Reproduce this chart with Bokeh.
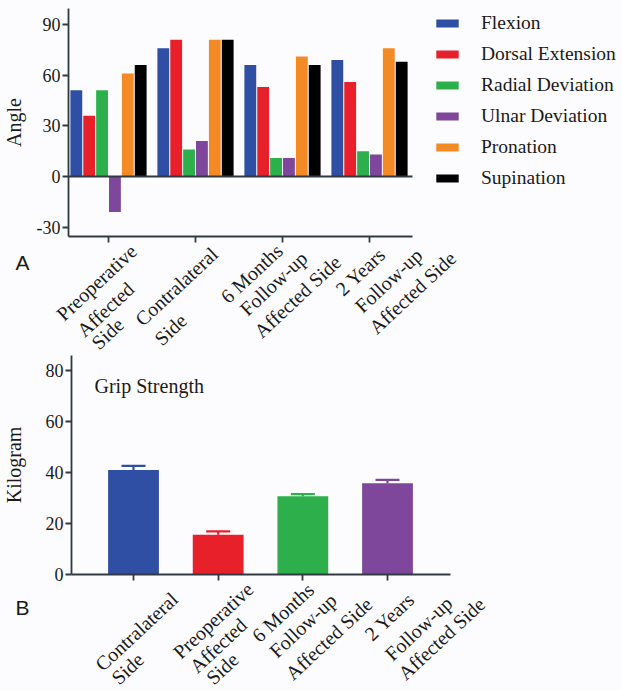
import math
from bokeh.plotting import figure
from bokeh.models import (Range1d, FixedTicker, Legend, LegendItem, Label, LinearAxis,
                          ColumnDataSource, Whisker, TeeHead, CustomLabelingPolicy)
from bokeh.layouts import column
from bokeh.transform import dodge
from bokeh.embed import file_html
from bokeh.resources import INLINE

# ---------------- data ----------------
groups_a = ["Preoperative\nAffected\nSide", "Contralateral\nSide",
            "6 Months\nFollow-up\nAffected Side", "2 Years\nFollow-up\nAffected Side"]
series_names = ["Flexion", "Dorsal Extension", "Radial Deviation",
                "Ulnar Deviation", "Pronation", "Supination"]
flexion = [51, 76, 66, 69]
dorsal_extension = [36, 81, 53, 56]
radial_deviation = [51, 16, 11, 15]
ulnar_deviation = [-21, 21, 11, 13]
pronation = [61, 81, 71, 76]
supination = [66, 81, 66, 68]
angle_ticks = [-30, 0, 30, 60, 90]
angle_bounds = (-35.5, 99.5)

groups_b = ["Contralateral\nSide", "Preoperative\nAffected\nSide",
            "6 Months\nFollow-up\nAffected Side", "2 Years\nFollow-up\nAffected Side"]
grip_mean = [41.0, 15.6, 30.7, 35.8]
grip_upper = [42.6, 16.9, 31.5, 37.1]
kg_ticks = [0, 20, 40, 60, 80]
kg_bounds = (0, 86)

series_colors = ["#2E4FA3", "#E8202A", "#2DB04B", "#7E479B", "#F28A26", "#000000"]
grip_colors = ["#2E4FA3", "#E8202A", "#2DB04B", "#7E479B"]

# ---------------- styling / layout constants ----------------
SERIF = "Liberation Serif"
SANS = "Liberation Sans"
AXIS_COLOR = "#2F3B40"
TEXT_COLOR = "#1A1A1A"
BG = "#FCFCFF"
W = 622
H1, H2 = 354, 336          # panel heights; panel B starts at page y = H1
LABEL_ANGLE = math.radians(43)
# pixel geometry of each panel (page coords): axis-left px, axis-right px,
# px of first category, px per category, page px of y=0, px per y unit
GEO_A = dict(left=68, right=412, c0=108, cpx=87.0, y0=176, ypx=1.689, top=0, h=H1)
GEO_B = dict(left=71, right=450, c0=133, cpx=84.67, y0=574, ypx=2.55, top=H1, h=H2)
# per-line (dx, dy-below-axis) pixel offsets of the rotated category labels
LINE_OFFSETS_A = [[(-12, 46), (-3, 73), (-1, 97)],
                  [(-19, 50), (-25, 93)],
                  [(-31, 37), (-9, 47), (15, 60)],
                  [(-9, 35), (19, 44), (43, 56)]]
LINE_OFFSETS_B = [[(3, 57), (-6, 94)],
                  [(-5, 46), (0, 71), (4, 94)],
                  [(-20, 38), (0, 51), (26, 64)],
                  [(2, 42), (31, 54), (54, 64)]]

HIDE_LABELS = CustomLabelingPolicy(code="""
for (const i of Array.from(indices)) indices.unset(i)
return indices
""")


def from_bottom(geo, page_y):
    """screen y (measured up from the canvas bottom) of a page y position"""
    return geo["h"] - (page_y - geo["top"])


def make_fig(geo, ybounds):
    y0c = geo["y0"] - geo["top"]
    xr = Range1d(-geo["c0"] / geo["cpx"], (W - geo["c0"]) / geo["cpx"])
    yr = Range1d(-(geo["h"] - y0c) / geo["ypx"], y0c / geo["ypx"])
    p = figure(width=W, height=geo["h"], x_range=xr, y_range=yr,
               output_backend="svg", toolbar_location=None,
               x_axis_location=None, y_axis_location=None,
               min_border_left=0, min_border_right=0, min_border_top=0,
               min_border_bottom=0)
    p.background_fill_color = BG
    p.border_fill_color = BG
    p.outline_line_color = None
    p.grid.grid_line_color = None
    xb = ((geo["left"] - geo["c0"]) / geo["cpx"], (geo["right"] - geo["c0"]) / geo["cpx"])
    xaxis = LinearAxis(fixed_location=ybounds[0], bounds=xb)
    yaxis = LinearAxis(fixed_location=xb[0], bounds=ybounds)
    for ax in (xaxis, yaxis):
        ax.axis_line_color = AXIS_COLOR
        ax.axis_line_width = 1.8
        ax.major_tick_line_color = AXIS_COLOR
        ax.major_tick_line_width = 1.8
        ax.major_tick_out = 6
        ax.major_tick_in = 0
        ax.minor_tick_line_color = None
        ax.major_label_text_font = SERIF
        ax.major_label_text_color = TEXT_COLOR
        ax.axis_label_text_font = SERIF
        ax.axis_label_text_font_style = "normal"
        ax.axis_label_text_color = TEXT_COLOR
    yaxis.major_label_text_font_size = "18px"
    yaxis.axis_label_text_font_size = "20px"
    yaxis.major_label_standoff = 2
    xaxis.major_label_policy = HIDE_LABELS
    p.add_layout(xaxis, "below")
    p.add_layout(yaxis, "left")
    return p, xaxis, yaxis, xb


def add_category_labels(p, groups, offsets, geo, axis_page_y):
    base = from_bottom(geo, axis_page_y)
    for i, g in enumerate(groups):
        for line, (dx, dy) in zip(g.split("\n"), offsets[i]):
            p.add_layout(Label(x=i, y=base - dy, x_units="data",
                               y_units="screen", x_offset=dx, text=line,
                               angle=LABEL_ANGLE, text_align="center",
                               text_baseline="middle", text_font=SERIF,
                               text_font_size="20px", text_color=TEXT_COLOR))


# ---------------- panel A ----------------
p1, xa1, ya1, xb1 = make_fig(GEO_A, angle_bounds)
ya1.ticker = FixedTicker(ticks=angle_ticks)
ya1.major_label_overrides = {t: ("-%d" % -t if t < 0 else str(t)) for t in angle_ticks}
ya1.axis_label = "Angle"
ya1.axis_label_standoff = 9
xa1.ticker = FixedTicker(ticks=list(range(len(groups_a))))

# zero line drawn as a bare axis at y = 0
zero_axis = LinearAxis(fixed_location=0, bounds=xb1, ticker=FixedTicker(ticks=[]),
                       major_tick_line_color=None, minor_tick_line_color=None,
                       axis_line_color=AXIS_COLOR, axis_line_width=1.8)
p1.add_layout(zero_axis, "below")

axis_a_page = GEO_A["y0"] - angle_bounds[0] * GEO_A["ypx"]
add_category_labels(p1, groups_a, LINE_OFFSETS_A, GEO_A, axis_a_page)

src_a = ColumnDataSource(dict(
    x=list(range(len(groups_a))),
    flexion=flexion, dorsal=dorsal_extension, radial=radial_deviation,
    ulnar=ulnar_deviation, pronation=pronation, supination=supination))
cols = ["flexion", "dorsal", "radial", "ulnar", "pronation", "supination"]
items = []
pitch = 0.148
for i, (c, name, color) in enumerate(zip(cols, series_names, series_colors)):
    r = p1.vbar(x=dodge("x", (i - 2.5) * pitch), top=c, bottom=0, width=0.136,
                source=src_a, fill_color=color, line_color=None)
    items.append(LegendItem(label=name, renderers=[r]))

legend = Legend(items=items, location=(433, from_bottom(GEO_A, 190)),
                orientation="vertical",
                glyph_width=28, glyph_height=10, label_height=24,
                label_standoff=20, spacing=7, padding=0, margin=0,
                border_line_color=None, background_fill_alpha=0,
                label_text_font=SERIF, label_text_font_size="19.5px",
                label_text_color=TEXT_COLOR)
p1.add_layout(legend, "center")

p1.add_layout(Label(x=15, y=from_bottom(GEO_A, 262), x_units="screen", y_units="screen",
                    text="A", text_font=SANS, text_font_size="21px",
                    text_color=TEXT_COLOR, text_baseline="middle", text_align="left"))

# ---------------- panel B ----------------
p2, xa2, ya2, xb2 = make_fig(GEO_B, kg_bounds)
ya2.ticker = FixedTicker(ticks=kg_ticks)
ya2.axis_label = "Kilogram"
ya2.axis_label_standoff = 18
xa2.ticker = FixedTicker(ticks=list(range(len(groups_b))))

add_category_labels(p2, groups_b, LINE_OFFSETS_B, GEO_B, GEO_B["y0"])

src_b = ColumnDataSource(dict(x=list(range(len(groups_b))), mean=grip_mean,
                              upper=grip_upper, color=grip_colors))
p2.vbar(x="x", top="mean", bottom=0, width=0.6, source=src_b,
        fill_color="color", line_color=None)
p2.add_layout(Whisker(source=src_b, base="x", upper="upper", lower="mean",
                      line_color="color", line_width=2.2,
                      upper_head=TeeHead(size=24, line_color="color", line_width=2.2),
                      lower_head=None))

p2.add_layout(Label(x=94, y=from_bottom(GEO_B, 385), x_units="screen", y_units="screen",
                    text="Grip Strength", text_font=SERIF, text_font_size="20px",
                    text_color=TEXT_COLOR, text_baseline="middle"))
p2.add_layout(Label(x=15, y=from_bottom(GEO_B, 607), x_units="screen", y_units="screen",
                    text="B", text_font=SANS, text_font_size="21px",
                    text_color=TEXT_COLOR, text_baseline="middle", text_align="left"))

layout = column(p1, p2, spacing=0)
layout.styles = {"background-color": BG}
open("out.html", "w").write(file_html(layout, INLINE))
